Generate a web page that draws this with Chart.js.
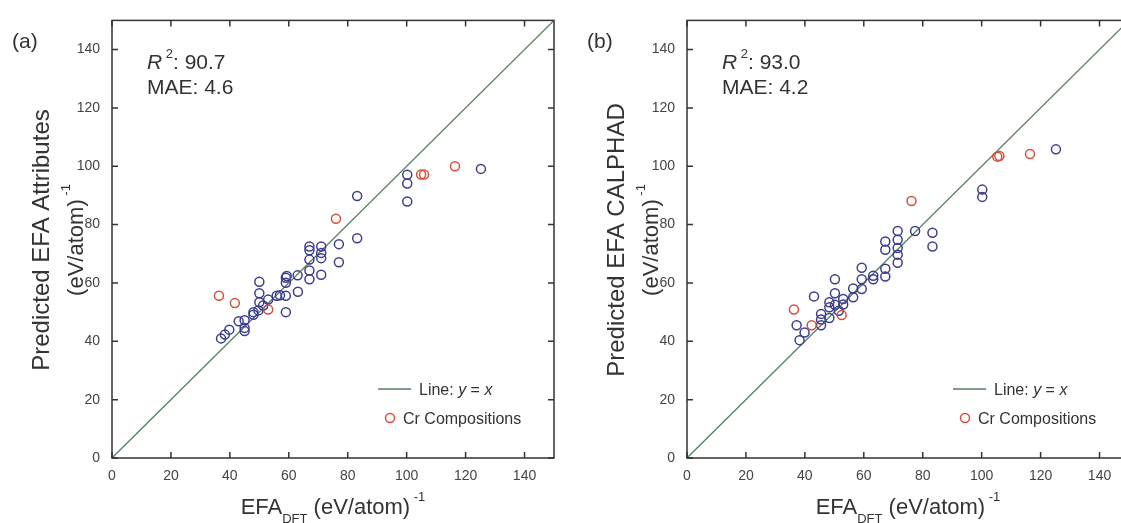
<!DOCTYPE html>
<html>
<head>
<meta charset="utf-8">
<script src="https://cdn.jsdelivr.net/npm/chart.js@4.4.0/dist/chart.umd.min.js"></script>
<style>
  html, body { margin: 0; padding: 0; background: #fff; overflow: hidden; width: 1121px; height: 523px; position: relative; }
  canvas { position: absolute; top: 0; }
  #chartA { left: 0; }
  #chartB { left: 560px; }
</style>
</head>
<body>
<canvas id="chartA" width="560" height="523"></canvas>
<canvas id="chartB" width="575" height="523"></canvas>
<script>
// tick labels (both axes, both panels)
const tickVals = [0, 20, 40, 60, 80, 100, 120, 140];

// (a) EFA Attributes
const attrX = [37.0, 38.3, 39.8, 43.0, 45.0, 45.0, 45.0, 48.0, 48.0, 49.7, 50.0, 50.0, 50.0, 51.3, 53.0, 55.9, 57.0, 59.0, 59.0, 59.0, 59.0, 59.3, 63.1, 63.0, 67.0, 67.0, 67.0, 67.0, 67.0, 71.0, 71.0, 71.0, 71.0, 77.0, 77.0, 83.2, 83.2, 100.2, 100.2, 100.2, 125.2];
const attrY = [41.0, 42.3, 44.0, 46.9, 47.2, 44.6, 43.5, 49.1, 50.0, 50.6, 60.4, 56.5, 53.4, 52.3, 54.3, 55.6, 55.8, 55.6, 50.0, 60.1, 61.8, 62.4, 57.0, 62.6, 72.5, 71.2, 68.0, 64.3, 61.3, 72.5, 70.3, 68.5, 62.8, 73.3, 67.1, 89.8, 75.3, 97.1, 94.1, 87.9, 99.1];
const attrCrX = [36.3, 41.7, 53.0, 76.0, 104.9, 105.9, 116.4];
const attrCrY = [55.6, 53.1, 50.9, 82.0, 97.2, 97.2, 100.0];

// (b) EFA CALPHAD
const calX = [37.2, 38.2, 39.9, 43.1, 45.5, 45.5, 45.5, 48.3, 48.3, 48.3, 50.2, 50.2, 50.2, 51.5, 53.0, 53.0, 56.4, 56.4, 59.3, 59.3, 59.3, 63.2, 63.2, 67.3, 67.3, 67.3, 67.3, 71.5, 71.5, 71.5, 71.5, 71.5, 77.4, 83.3, 83.3, 100.2, 100.2, 125.2];
const calY = [45.5, 40.4, 43.0, 55.4, 45.5, 47.5, 49.4, 48.0, 51.7, 53.4, 61.3, 56.5, 52.5, 50.5, 54.5, 52.6, 58.1, 55.1, 65.2, 61.3, 57.9, 61.3, 62.5, 74.2, 71.4, 64.9, 62.2, 77.8, 74.8, 72.0, 69.7, 66.9, 77.8, 77.2, 72.5, 92.0, 89.5, 105.8];
const calCrX = [36.3, 42.3, 52.5, 76.2, 105.3, 106.0, 116.4];
const calCrY = [50.9, 45.5, 49.0, 88.1, 103.3, 103.5, 104.2];

const blue = "#3d3d8e";
const red = "#d4503a";
const green = "#55805f";
const ink = "#333";
const FONT = "'Liberation Sans', Arial, sans-serif";

function pts(xs, ys) {
  return xs.map((x, i) => ({ x, y: ys[i] }));
}

// draw a row of text pieces (for sub/superscripts), returns width
function runs(ctx, x, y, parts, measureOnly) {
  let w = 0;
  parts.forEach(p => {
    ctx.font = (p.italic ? "italic " : "") + p.size + "px " + FONT;
    if (!measureOnly) ctx.fillText(p.t, x + w, y + (p.dy || 0));
    w += ctx.measureText(p.t).width;
  });
  return w;
}
function runsCentered(ctx, cx, y, parts) {
  const w = runs(ctx, 0, 0, parts, true);
  runs(ctx, cx - w / 2, y, parts);
}

const decor = {
  id: "decor",
  afterDraw(chart, args, o) {
    const ctx = chart.ctx, a = chart.chartArea;
    const xs = chart.scales.x, ys = chart.scales.y;
    ctx.save();
    // box + inward ticks on four sides
    ctx.strokeStyle = ink;
    ctx.lineWidth = 1.5;
    ctx.strokeRect(a.left, a.top, a.right - a.left, a.bottom - a.top);
    ctx.beginPath();
    tickVals.forEach(v => {
      const px = xs.getPixelForValue(v), py = ys.getPixelForValue(v);
      ctx.moveTo(px, a.bottom); ctx.lineTo(px, a.bottom - 6);
      ctx.moveTo(px, a.top); ctx.lineTo(px, a.top + 6);
      ctx.moveTo(a.left, py); ctx.lineTo(a.left + 6, py);
      ctx.moveTo(a.right, py); ctx.lineTo(a.right - 6, py);
    });
    ctx.stroke();

    ctx.fillStyle = ink;
    ctx.textBaseline = "alphabetic";
    // panel letter
    runs(ctx, a.left - 100, 48, [{ t: o.letter, size: 21 }]);
    // stats
    runs(ctx, a.left + 35, 69, [
      { t: "R", size: 21, italic: true },
      { t: " 2", size: 13, dy: -11 },
      { t: ": " + o.r2, size: 21 }
    ]);
    runs(ctx, a.left + 35, 94, [{ t: "MAE: " + o.mae, size: 21 }]);

    // x title
    runsCentered(ctx, (a.left + a.right) / 2, 514, [
      { t: "EFA", size: 22 },
      { t: "DFT", size: 13, dy: 9 },
      { t: " (eV/atom)", size: 22 },
      { t: " -1", size: 13, dy: -13 }
    ]);

    // y title
    ctx.save();
    ctx.translate(a.left - 63, 240);
    ctx.rotate(-Math.PI / 2);
    runsCentered(ctx, 0, 0, [{ t: o.yTitle, size: 24 }]);
    ctx.restore();
    ctx.save();
    ctx.translate(a.left - 29, 240);
    ctx.rotate(-Math.PI / 2);
    runsCentered(ctx, 0, 0, [
      { t: "(eV/atom)", size: 22 },
      { t: " -1", size: 13, dy: -13 }
    ]);
    ctx.restore();

    // legend
    ctx.strokeStyle = green;
    ctx.lineWidth = 1.3;
    ctx.beginPath();
    ctx.moveTo(a.right - 176, a.bottom - 69);
    ctx.lineTo(a.right - 143, a.bottom - 69);
    ctx.stroke();
    runs(ctx, a.right - 135, a.bottom - 63, [
      { t: "Line: ", size: 16 },
      { t: "y", size: 16, italic: true },
      { t: " = ", size: 16 },
      { t: "x", size: 16, italic: true }
    ]);
    ctx.strokeStyle = red;
    ctx.lineWidth = 1.5;
    ctx.beginPath();
    ctx.arc(a.right - 164, a.bottom - 40, 4.5, 0, Math.PI * 2);
    ctx.stroke();
    runs(ctx, a.right - 151, a.bottom - 34, [{ t: "Cr Compositions", size: 16 }]);
    ctx.restore();
  }
};

function makeChart(id, padLeft, bluePts, redPts, opts) {
  const axis = (isX) => ({
    type: "linear",
    min: 0,
    max: 150,
    grid: { display: false, drawTicks: false },
    border: { display: false },
    afterBuildTicks: s => { s.ticks = tickVals.map(v => ({ value: v })); },
    afterFit: s => { if (isX) s.height = 65; else s.width = 112; },
    ticks: {
      color: "#444",
      padding: isX ? 10 : 12,
      maxRotation: 0,
      font: { family: FONT, size: 14 }
    }
  });
  return new Chart(document.getElementById(id), {
    type: "scatter",
    data: {
      datasets: [
        {
          type: "line",
          data: [{ x: 0, y: 0 }, { x: 150, y: 150 }],
          borderColor: green,
          borderWidth: 1.3,
          pointRadius: 0,
          order: 3
        },
        {
          data: bluePts,
          borderColor: blue,
          backgroundColor: "rgba(0,0,0,0)",
          borderWidth: 1.5,
          pointRadius: 4.5,
          order: 2
        },
        {
          data: redPts,
          borderColor: red,
          backgroundColor: "rgba(0,0,0,0)",
          borderWidth: 1.5,
          pointRadius: 4.5,
          order: 1
        }
      ]
    },
    options: {
      responsive: false,
      animation: false,
      layout: { padding: { left: padLeft, right: 6, top: 14, bottom: 0 } },
      scales: { x: axis(true), y: axis(false) },
      plugins: { legend: { display: false }, tooltip: { enabled: false }, decor: opts }
    },
    plugins: [decor]
  });
}

makeChart("chartA", 0, pts(attrX, attrY), pts(attrCrX, attrCrY),
  { letter: "(a)", r2: "90.7", mae: "4.6", yTitle: "Predicted EFA Attributes" });
makeChart("chartB", 15, pts(calX, calY), pts(calCrX, calCrY),
  { letter: "(b)", r2: "93.0", mae: "4.2", yTitle: "Predicted EFA CALPHAD" });
</script>
</body>
</html>
